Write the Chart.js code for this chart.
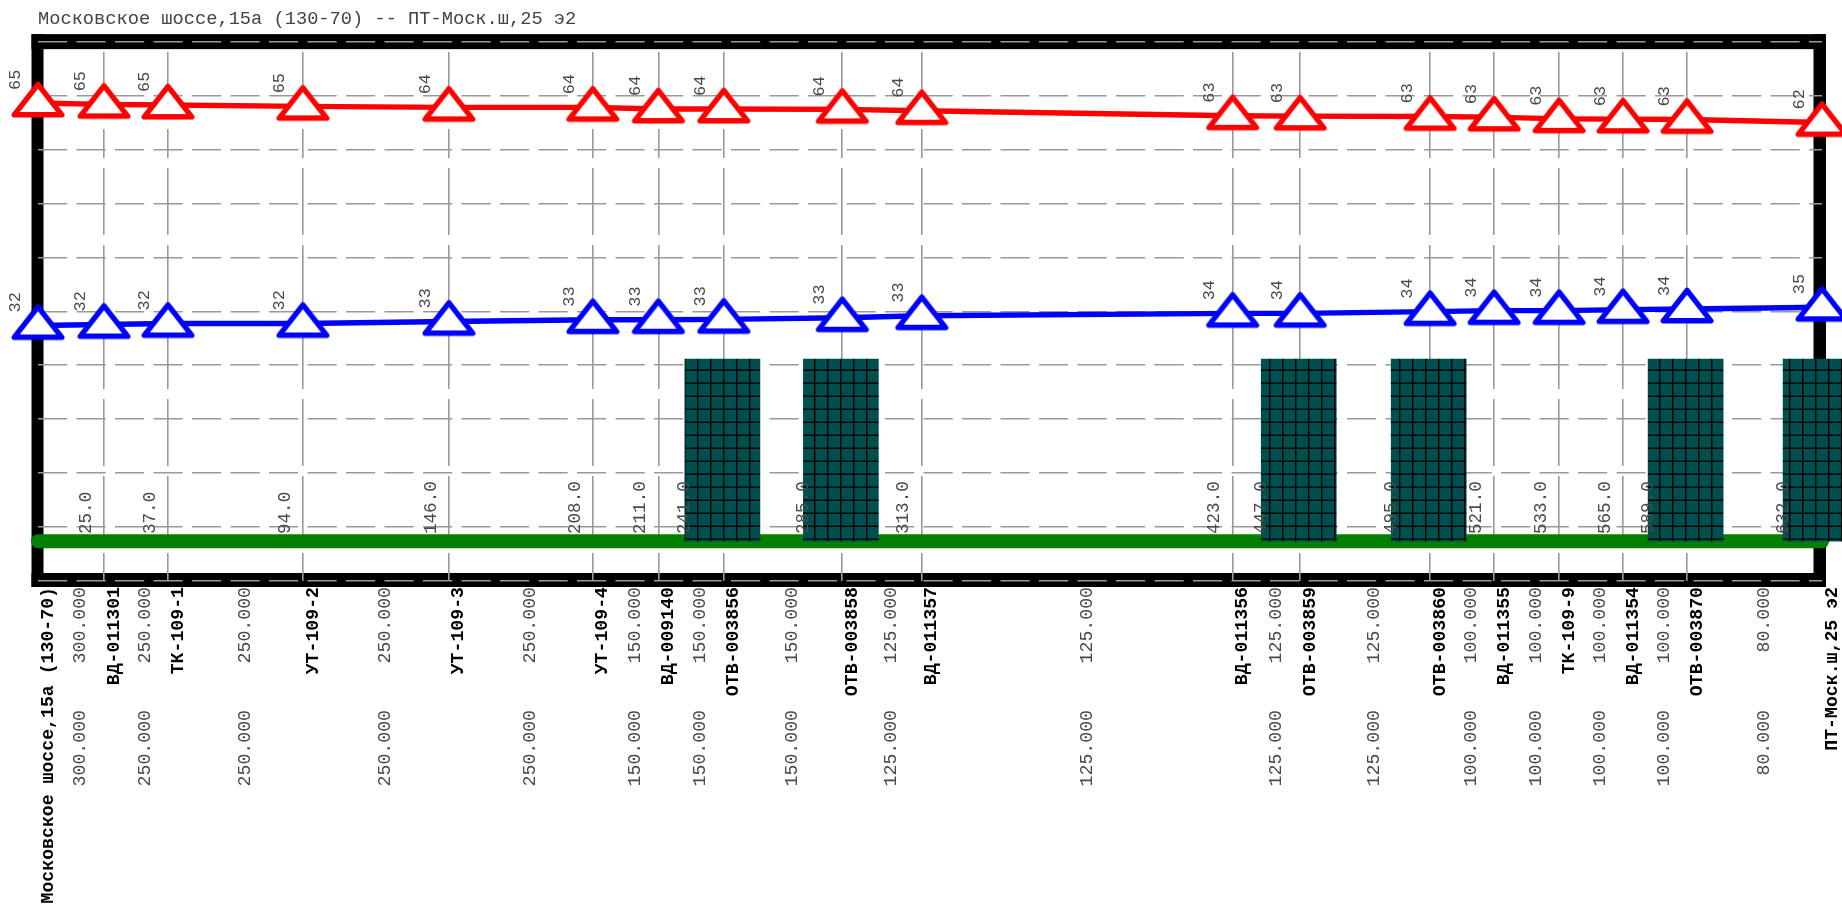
<!DOCTYPE html>
<html>
<head>
<meta charset="utf-8">
<title>Московское шоссе,15а (130-70) -- ПТ-Моск.ш,25 э2</title>
<script src="https://cdn.jsdelivr.net/npm/chart.js@4"></script>
<style>
    html, body { margin: 0; padding: 0; background: #fff; overflow: hidden; }
    #wrap { width: 1842px; height: 913px; }
</style>
</head>
<body>
<div id="wrap"><canvas id="profile" width="1842" height="913"></canvas></div>
<script>
const chartTitle = "Московское шоссе,15а (130-70) -- ПТ-Моск.ш,25 э2";

const stations = ["Московское шоссе,15а (130-70)", "ВД-011301", "ТК-109-1", "УТ-109-2", "УТ-109-3", "УТ-109-4",
    "ВД-009140", "ОТВ-003856", "ОТВ-003858", "ВД-011357", "ВД-011356", "ОТВ-003859", "ОТВ-003860", "ВД-011355",
    "ТК-109-9", "ВД-011354", "ОТВ-003870", "ПТ-Моск.ш,25 э2"];
const stationPos = [0, 66, 130, 265, 411, 555, 620.5, 686, 804.5, 884, 1195, 1262.5, 1392.5, 1456.5, 1521.5, 1585.5, 1649.5, 1784.5];
const redValues = [65.0, 64.8, 64.7, 64.5, 64.35, 64.35, 64.1, 64.1, 64.05, 63.85, 63.1, 63.05, 63.0, 62.9, 62.65, 62.6, 62.55, 62.1];
const blueValues = [32.0, 32.15, 32.3, 32.3, 32.6, 32.85, 32.85, 32.9, 33.15, 33.45, 33.8, 33.8, 34.05, 34.2, 34.2, 34.35, 34.45, 34.7];
const redLabels = ["65", "65", "65", "65", "64", "64", "64", "64", "64", "64", "63", "63", "63", "63", "63", "63", "63", "62"];
const blueLabels = ["32", "32", "32", "32", "33", "33", "33", "33", "33", "33", "34", "34", "34", "34", "34", "34", "34", "35"];
const chainage = ["25.0", "37.0", "94.0", "146.0", "208.0", "211.0", "241.0", "285.0", "313.0", "423.0", "447.0", "495.0",
    "521.0", "533.0", "565.0", "589.0", "632.0"];
const spanLabels = ["300.000", "250.000", "250.000", "250.000", "250.000", "150.000", "150.000", "150.000", "125.000",
    "125.000", "125.000", "125.000", "100.000", "100.000", "100.000", "100.000", "80.000"];
const barStations = [7, 8, 11, 12, 16, 17];
const barValue = 27;
const yTicks = [-5.9, 2.1, 10.1, 18.1, 26.1, 34.1, 42.1, 50.1, 58.1, 66.1, 74.1];

const monoFont = '"Liberation Mono", monospace';
const gridGrey = "#999";

// white triangle with coloured outline, centred on the line it sits on
function makeTriangle(color) {
    const c = document.createElement("canvas");
    c.width = 64;
    c.height = 64;
    const g = c.getContext("2d");
    g.beginPath();
    g.moveTo(32, 32 - 18.6);
    g.lineTo(32 + 23.8, 32 + 11.8);
    g.lineTo(32 - 23.8, 32 + 11.8);
    g.closePath();
    g.fillStyle = "#fff";
    g.fill();
    g.lineJoin = "round";
    g.lineWidth = 5.4;
    g.strokeStyle = color;
    g.stroke();
    return c;
}

// teal block with the black mesh on it
function makeMesh() {
    const c = document.createElement("canvas");
    c.width = 13;
    c.height = 13;
    const g = c.getContext("2d");
    g.fillStyle = "#004f4f";
    g.fillRect(0, 0, 13, 13);
    g.fillStyle = "#000";
    g.fillRect(8, 0, 1.4, 13);
    g.fillRect(0, 5.5, 13, 1.4);
    return document.createElement("canvas").getContext("2d").createPattern(c, "repeat");
}

// thick black frame goes under the grid
const framePlugin = {
    id: "frame",
    beforeDraw(chart) {
        const { ctx, chartArea: a } = chart;
        ctx.save();
        ctx.fillStyle = "#000";
        ctx.fillRect(a.left - 6.5, a.top - 7.5, a.right - a.left + 10.5, 15);
        ctx.fillRect(a.left - 6.5, a.bottom - 8, a.right - a.left + 10.5, 14);
        ctx.fillRect(a.left - 6.5, a.top - 7.5, 12, a.bottom - a.top + 13.5);
        ctx.fillRect(a.right - 8.5, a.top - 7.5, 12.5, a.bottom - a.top + 13.5);
        ctx.restore();
    }
};

function upText(ctx, text, x, y, align) {
    ctx.save();
    ctx.translate(x, y);
    ctx.rotate(-Math.PI / 2);
    ctx.textAlign = align;
    ctx.textBaseline = "middle";
    ctx.fillText(text, 0, 0);
    ctx.restore();
}

const labelsPlugin = {
    id: "profileLabels",
    afterDatasetsDraw(chart) {
        const { ctx, scales: { x, y } } = chart;
        ctx.save();

        ctx.fillStyle = "#4a4a4a";
        ctx.font = "17px " + monoFont;
        stationPos.forEach((p, i) => {
            upText(ctx, redLabels[i], x.getPixelForValue(p) - 23, y.getPixelForValue(redValues[i]) - 13, "left");
            upText(ctx, blueLabels[i], x.getPixelForValue(p) - 23, y.getPixelForValue(blueValues[i]) - 13, "left");
        });

        // labels at a block sit further left, on the block's edge
        ctx.font = "17.6px " + monoFont;
        chainage.forEach((t, i) => {
            const shift = barStations.includes(i + 1) ? 39 : 18;
            upText(ctx, t, x.getPixelForValue(stationPos[i + 1]) - shift, 534, "left");
        });

        ctx.font = "18.2px " + monoFont;
        spanLabels.forEach((t, i) => {
            const mid = x.getPixelForValue((stationPos[i] + stationPos[i + 1]) / 2) + 9.5;
            upText(ctx, t, mid, 587, "right");
            upText(ctx, t, mid, 710, "right");
        });

        ctx.fillStyle = "#000";
        ctx.font = "bold 18.2px " + monoFont;
        stations.forEach((t, i) => {
            upText(ctx, t, x.getPixelForValue(stationPos[i]) + 10, 587, "right");
        });
        ctx.restore();
    }
};

const ctx = document.getElementById("profile").getContext("2d");
new Chart(ctx, {
    type: "line",
    data: {
        datasets: [{
            label: "Base",
            data: stationPos.map((p) => ({ x: p, y: 0 })),
            borderColor: "#008000",
            borderWidth: 14,
            borderCapStyle: "round",
            pointRadius: 0,
            clip: false,
            order: 4
        }, {
            type: "bar",
            label: "ОТВ",
            data: barStations.map((i) => ({ x: stationPos[i] - 1.4, y: barValue })),
            backgroundColor: makeMesh(),
            barThickness: 75,
            clip: false,
            order: 3
        }, {
            label: "Red",
            data: stationPos.map((p, i) => ({ x: p, y: redValues[i] })),
            borderColor: "#ff0000",
            borderWidth: 5.4,
            pointStyle: makeTriangle("#ff0000"),
            pointRadius: 20,
            clip: false,
            order: 2
        }, {
            label: "Blue",
            data: stationPos.map((p, i) => ({ x: p, y: blueValues[i] })),
            borderColor: "#0000ff",
            borderWidth: 5.4,
            pointStyle: makeTriangle("#0000ff"),
            pointRadius: 20,
            clip: false,
            order: 1
        }]
    },
    options: {
        responsive: false,
        animation: false,
        layout: { autoPadding: false, padding: { left: 38, right: 20, top: 0, bottom: 332 } },
        plugins: {
            legend: { display: false },
            tooltip: { enabled: false },
            title: {
                display: true,
                text: chartTitle,
                align: "start",
                color: "#444",
                font: { family: monoFont, size: 18.7, weight: "normal" },
                padding: { top: 8, bottom: 11.2 }
            }
        },
        scales: {
            x: {
                type: "linear",
                offset: false,
                min: 0,
                max: 1784.5,
                // first and last stations sit on the frame, no gridline there
                afterBuildTicks(scale) { scale.ticks = stationPos.slice(1, -1).map((v) => ({ value: v })); },
                ticks: { display: false },
                border: { display: false, dash: [0, 10.3, 67, 10, 29, 10, 67, 10, 67, 10, 67, 10, 67, 10, 67, 10, 67, 10, 67, 10, 67, 10, 67, 10] },
                grid: { color: gridGrey, lineWidth: 1.6, drawTicks: false, offset: false }
            },
            y: {
                min: yTicks[0],
                max: yTicks[yTicks.length - 1],
                afterBuildTicks(scale) { scale.ticks = yTicks.map((v) => ({ value: v })); },
                ticks: { display: false },
                border: { display: false, dash: [29.2, 9.3] },
                grid: { color: gridGrey, lineWidth: 1.6, drawTicks: false }
            }
        }
    },
    plugins: [framePlugin, labelsPlugin]
});
</script>
</body>
</html>
